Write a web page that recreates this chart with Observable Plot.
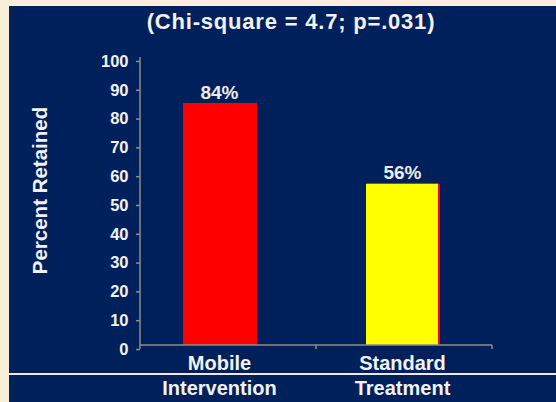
<!DOCTYPE html>
<html>
<head>
<meta charset="utf-8">
<script src="https://cdn.jsdelivr.net/npm/d3@7"></script>
<script src="https://cdn.jsdelivr.net/npm/@observablehq/plot@0.6"></script>
<style>
  html, body { margin: 0; padding: 0; width: 556px; height: 402px; overflow: hidden; background: #f7efd9; }
  #panel { position: absolute; left: 9px; top: 6px; width: 547px; height: 396px; background: #00205b; }
  #chart { position: absolute; left: 0; top: 0; }
  #title { position: absolute; left: 291px; top: 9px; transform: translateX(-50%); white-space: nowrap;
           font-family: "Liberation Sans", Arial, sans-serif; font-weight: bold; font-size: 22px; line-height: 25px;
           letter-spacing: 0.8px; color: #f2f2f2; }
  #rule { position: absolute; left: 9px; top: 373px; width: 547px; height: 2px; background: #ebebe3; }
</style>
</head>
<body>
<div id="panel"></div>
<div id="chart"></div>
<div id="title"></div>
<div id="rule"></div>
<script>
const title = "(Chi-square = 4.7; p=.031)";
const yLabel = "Percent Retained";
const categories = ["Mobile\nIntervention", "Standard\nTreatment"];
const values = [84, 56];
const valueLabels = ["84%", "56%"];
const barColors = ["#ff0000", "#ffff00"];
const yTicks = [0, 10, 20, 30, 40, 50, 60, 70, 80, 90, 100];

document.getElementById("title").textContent = title;

const data = categories.map((c, i) => ({cat: c, value: values[i], label: valueLabels[i], color: barColors[i]}));

const axisColor = "#8c8c8c";
const textColor = "#f2f2f2";

function axisFrame(index, scales, values, dims) {
  const {marginLeft, marginRight, width} = dims;
  const y0 = scales.y(0), y1 = scales.y(100);
  const xl = marginLeft, xr = width - marginRight, xm = (xl + xr) / 2;
  const g = d3.create("svg:g").attr("stroke", axisColor).attr("stroke-width", 1.5).attr("fill", "none");
  g.append("path").attr("d", `M${xl},${y1}V${y0}H${xr}`);
  for (const x of [xl, xm, xr]) {
    g.append("line").attr("x1", x).attr("x2", x).attr("y1", y0).attr("y2", y0 + 4);
  }
  return g.node();
}

const chart = Plot.plot({
  width: 556,
  height: 402,
  marginLeft: 140,
  marginRight: 64,
  marginTop: 57,
  marginBottom: 57,
  style: {background: "transparent", color: textColor, fontFamily: "'Liberation Sans', Arial, sans-serif", fontWeight: "bold", overflow: "visible"},
  x: {domain: categories, paddingInner: 0.607, paddingOuter: 0.265, align: 0.443, axis: null},
  y: {domain: [0, 100], axis: null},
  marks: [
    Plot.barY(data, {x: "cat", y: "value", fill: "#ff0000", dx: 2}),
    Plot.barY(data, {x: "cat", y: "value", fill: "color"}),
    Plot.axisY({ticks: yTicks, tickSize: 4, tickPadding: 8, stroke: axisColor, strokeWidth: 1.5, fill: textColor, fontSize: 16.5, fontWeight: "bold", dy: 4, label: null}),
    axisFrame,
    Plot.text(data, {x: "cat", y: "value", text: "label", lineAnchor: "bottom", dy: -5, fontSize: 19, fontWeight: "bold", fill: "#ececec"}),
    Plot.text(data, {x: "cat", text: "cat", frameAnchor: "bottom", lineAnchor: "top", dy: 7, lineHeight: 25 / 20, fontSize: 20, fontWeight: "bold", fill: textColor}),
    Plot.text([yLabel], {text: d => d, frameAnchor: "left", textAnchor: "middle", rotate: -90, dx: -100, dy: -11, fontSize: 20.5, fontWeight: "bold", fill: textColor})
  ]
});
document.getElementById("chart").appendChild(chart);
</script>
</body>
</html>
